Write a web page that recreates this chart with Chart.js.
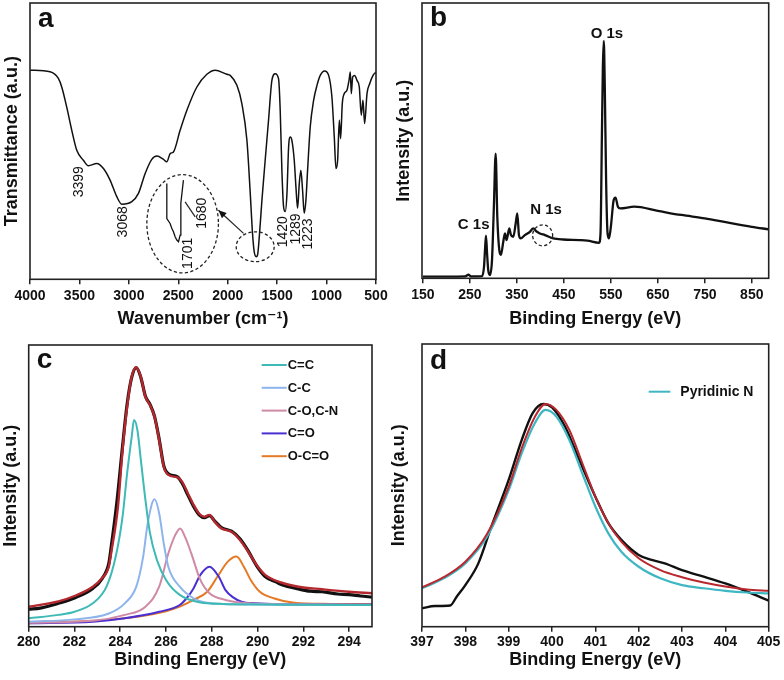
<!DOCTYPE html>
<html>
<head>
<meta charset="utf-8">
<script src="https://cdn.jsdelivr.net/npm/chart.js@4.4.1/dist/chart.umd.min.js"></script>
<style>
  html, body { margin: 0; padding: 0; background: #fff; }
  #wrap { position: relative; width: 784px; height: 680px; overflow: hidden; background: #fff; }
  canvas { position: absolute; }
</style>
</head>
<body>
<div id="wrap">
  <canvas id="ca" width="392" height="330" style="left:0;top:0"></canvas>
  <canvas id="cb" width="392" height="330" style="left:392px;top:0"></canvas>
  <canvas id="cc" width="392" height="350" style="left:0;top:330px"></canvas>
  <canvas id="cd" width="396" height="350" style="left:388px;top:330px"></canvas>
</div>
<script>
// ---------------- DATA ----------------
// (a) FTIR
const aWave = [4000,3797,3713,3679,3629,3578,3527,3460,3409,3325,3257,3190,3122,3072,2970,2903,2835,2768,2717,2650,2616,2582,2549,2481,2413,2312,2211,2127,2009,
  1975,1907,1857,1806,1772,1749,1732,1712,1698,1678,1654,1621,1587,1553,1519,1486,1469,1452,1435,1418,1401,1384,1367,1351,1327,1310,1293,1276,1260,1243,1226,1209,1192,1165,1131,1097,1064,1020,979,946,922,905,888,871,858,841,821,794,773,760,750,736,716,692,669,649,632,615,591,564,530,500];
const aTrans = [75.7,75.1,72.7,69.6,62.4,54.0,46.7,43.1,41.1,41.9,40.1,35.9,29.9,27.2,28.1,31.1,38.3,43.4,44.6,43.4,42.5,45.5,46.1,54.0,61.2,69.6,74.2,75.7,74.2,
  73.8,70.2,63.6,50.4,31.1,16.6,10.0,8.2,8.8,16.6,28.6,43.1,57.6,72.0,74.4,72.6,61.2,39.5,26.3,24.5,30.9,47.9,51.5,50.3,43.1,33.5,25.7,34.7,39.5,32.3,23.9,28.6,39.5,55.2,64.8,70.2,73.8,75.4,73.8,66.0,51.5,40.1,43.1,57.6,50.9,63.6,67.2,68.4,72.0,75.0,67.2,73.2,73.8,72.0,69.6,59.4,64.8,56.4,67.2,70.8,73.8,75.0];
const aInsetWave = [2616,2616,2583,2565,2549,2532,2515,2498,2481,2474,2448];
const aInsetTrans = [34.7,22.0,20.2,18.4,17.2,15.4,14.2,13.6,16.0,27.6,35.9];
const aTicks = [4000,3500,3000,2500,2000,1500,1000,500];
const aPeakLabels = ['3399','3068','1420','1289','1223','1680','1701'];

// (b) XPS survey
const bEnergy = [150,200,240,247,252,276,280,282,284.2,286.5,289,292.7,297,301,304.8,308.3,312.5,316,321,324.6,328,333.8,337.4,342.3,347.4,350.8,354.4,358,367,377.8,384.8,392,399,409.7,427.4,448.6,484,500,525,528,531,533,535,537,540,543,546,550,556,560,565,570,600,650,700,750,800,850,886];
const bIntensity = [0.6,0.6,0.7,1.3,0.7,0.8,4.2,10.0,15.5,9.0,3.0,1.2,6.6,26.0,45.3,22.3,10.3,8.5,13.3,16.3,13.9,18.1,15.7,15.1,19.9,23.6,15.7,14.5,15.7,16.9,18.1,17.0,16.3,15.7,14.5,14.1,13.9,13.7,12.9,16.3,52.6,76.8,86.2,70.7,34.5,16.3,14.5,18.7,28.4,29.3,26.0,25.4,26.0,24.5,23.0,21.8,20.2,18.7,17.8];
const bTicks = [150,250,350,450,550,650,750,850];
const bPeakLabels = ['C 1s','N 1s','O 1s'];

// (c) C 1s
const cLabels = ['C=C','C-C','C-O,C-N','C=O','O-C=O'];
const cCCx = [280,281.3,282,282.8,283.4,283.8,284.1,284.3,284.5,284.6,284.75,284.9,285.1,285.3,285.6,286,286.6,287.5,288.5,290,292,295];
const cCCy = [3.0,4.2,5.3,8.3,14.2,24.8,39.0,54.4,67.4,73.4,69.8,59.2,45.0,33.2,23.7,16.6,11.3,8.6,8.1,7.9,7.8,7.7];
const cCSx = [280,282,283.5,284.2,284.7,285.0,285.2,285.5,285.7,285.9,286.1,286.6,287.2,287.8,288.5,290,292,295];
const cCSy = [1.8,2.6,4.7,8.3,14.2,24.8,36.7,45.2,40.3,29.6,21.3,14.2,10.1,8.5,8.1,7.9,7.8,7.7];
const cCOx = [280,282.8,284.2,285.1,285.7,286.1,286.4,286.62,286.85,287.1,287.5,287.9,288.6,289.6,291,295];
const cCOy = [1.4,2.1,4.2,7.1,14.2,26.0,32.5,34.9,31.5,26.1,16.6,11.9,9.5,8.3,8.0,7.8];
const cCdOx = [280,282.8,284.2,285.7,286.6,286.9,287.2,287.5,287.9,288.3,288.6,288.9,289.3,289.9,291,295];
const cCdOy = [1.2,1.8,3.0,5.3,7.7,10.1,13.6,18.4,21.3,17.8,13.0,10.6,8.9,8.3,8.0,7.9];
const cOCOx = [280,284,286,286.6,287.2,287.8,288.25,288.7,289.08,289.4,289.7,290.1,290.7,291.6,293.2,295];
const cOCOy = [1.2,2.8,5.5,7.1,9.5,12.4,17.8,23.1,24.9,21.3,16.6,12.4,10.1,8.5,8.1,8.0];
const cFitX = [280,281.3,282,282.8,283.2,283.5,283.6,283.9,284.1,284.3,284.5,284.7,284.9,285.1,285.3,285.5,285.7,285.9,286.1,286.5,286.7,286.95,287.17,287.46,287.68,287.9,288.12,288.42,288.86,289.23,289.59,289.96,290.33,291.06,291.79,292.82,293.99,295];
const cFitY = [7.1,9.0,10.9,14.2,17.2,21.3,26.0,42.6,62.7,78.0,88.7,92.1,88.7,81.6,78.7,74.5,66.3,56.8,53.9,53.0,51.5,47.4,43.8,40.0,39.0,39.7,37.3,34.9,33.7,30.8,26.6,21.9,18.4,15.6,14.2,13.3,12.4,11.9];
const cRawX = [280,280.5,281.3,282,282.8,283.2,283.5,283.6,283.85,284.1,284.3,284.5,284.7,284.9,285.1,285.3,285.5,285.7,285.9,286.1,286.5,286.7,286.95,287.17,287.46,287.68,287.9,288.12,288.42,288.86,289.23,289.59,289.96,290.33,290.8,291.06,291.79,292.3,292.82,293.5,293.99,294.5,295];
const cRawY = [6.2,6.6,8.3,10.2,13.6,17.0,22.5,28.0,44.0,64.0,79.0,88.5,92.0,88.5,81.8,78.9,74.6,66.6,57.2,54.3,53.2,51.0,46.8,43.2,39.6,38.7,39.4,37.6,35.2,33.9,31.2,26.9,21.6,17.8,15.9,14.9,13.4,12.6,12.4,11.6,11.4,10.9,10.5];
const cTicks = [280,282,284,286,288,290,292,294];

// (d) N 1s
const dLabel = 'Pyridinic N';
const dFitX = [397,397.5,398,398.5,399,399.3,399.6,399.85,400.1,400.4,400.7,401,401.3,401.6,402,402.5,403,403.5,404,404.5,405];
const dCompY = [13.6,17.1,22.4,31.8,48.3,61.3,71.9,76.7,74.3,66.0,54.2,42.5,33.0,26.5,21.2,17.1,14.7,13.6,12.7,12.1,11.8];
const dFitY = [13.9,17.5,23.0,32.8,49.5,63.1,74.1,78.8,76.7,69.6,57.8,46.0,36.6,30.1,24.2,20.0,17.5,15.6,14.2,13.2,12.7];
const dRawX = [397,397.3,397.65,397.8,398,398.3,398.6,399,399.3,399.55,399.8,400,400.3,400.6,401,401.3,401.6,402,402.3,402.6,403,403.5,404,404.5,405];
const dRawY = [6.5,7.3,7.5,10.6,14.7,22.4,35.4,51.9,66.0,75.5,78.8,77.6,70.8,60.1,46.0,36.6,30.7,25.4,23.6,22.4,20.0,17.7,15.3,12.4,9.2];
const dTicks = [397,398,399,400,401,402,403,404,405];

// ---------------- HELPERS ----------------
const FONT = "'Liberation Sans', Arial, 'DejaVu Sans', sans-serif";
const INK = '#111';
const pts = (xs, ys) => xs.map((v, i) => ({ x: v, y: ys[i] }));

const notesPlugin = {
  id: 'notes',
  afterDatasetsDraw(chart, args, opts) {
    const { ctx, chartArea: ca, scales: { x, y } } = chart;
    const px = v => x.getPixelForValue(v), py = v => y.getPixelForValue(v);
    ctx.save();
    ctx.strokeStyle = '#222';
    ctx.fillStyle = INK;
    (opts.ellipses || []).forEach(e => {
      const cx = px(e.x), cy = py(e.y);
      const rx = Math.abs(px(e.x + e.rx) - cx), ry = Math.abs(py(e.y + e.ry) - cy);
      ctx.beginPath();
      ctx.setLineDash([3.2, 2.4]);
      ctx.lineWidth = 1.3;
      ctx.ellipse(cx, cy, rx, ry, 0, 0, Math.PI * 2);
      ctx.stroke();
    });
    ctx.setLineDash([]);
    (opts.lines || []).forEach(l => {
      const x1 = px(l.x1), y1 = py(l.y1), x2 = px(l.x2), y2 = py(l.y2);
      ctx.beginPath(); ctx.lineWidth = 1.2; ctx.moveTo(x1, y1); ctx.lineTo(x2, y2); ctx.stroke();
      if (l.arrow) {
        const ang = Math.atan2(y2 - y1, x2 - x1), L = 8, W = 3.5;
        ctx.beginPath();
        ctx.moveTo(x2, y2);
        ctx.lineTo(x2 - L * Math.cos(ang) + W * Math.sin(ang), y2 - L * Math.sin(ang) - W * Math.cos(ang));
        ctx.lineTo(x2 - L * Math.cos(ang) - W * Math.sin(ang), y2 - L * Math.sin(ang) + W * Math.cos(ang));
        ctx.closePath(); ctx.fill();
      }
    });
    (opts.texts || []).forEach(t => {
      ctx.save();
      ctx.translate(px(t.x), py(t.y));
      if (t.rot) ctx.rotate(-Math.PI / 2);
      ctx.font = t.font;
      ctx.textAlign = 'center';
      ctx.textBaseline = 'middle';
      ctx.fillText(t.text, 0, 0);
      ctx.restore();
    });
    if (opts.legend) {
      const lg = opts.legend;
      ctx.font = lg.font;
      ctx.textAlign = 'left';
      ctx.textBaseline = 'middle';
      chart.data.datasets.filter(d => d.inLegend).forEach((d, i) => {
        const yy = ca.top + lg.dy + i * lg.step;
        ctx.beginPath();
        ctx.strokeStyle = d.borderColor; ctx.lineWidth = 2;
        ctx.moveTo(ca.left + lg.x1, yy); ctx.lineTo(ca.left + lg.x2, yy); ctx.stroke();
        ctx.fillStyle = INK;
        ctx.fillText(d.label, ca.left + lg.tx, yy + 0.5);
      });
    }
    if (opts.letter) {
      ctx.font = 'bold 28px ' + FONT;
      ctx.fillStyle = INK;
      ctx.textAlign = 'left';
      ctx.textBaseline = 'alphabetic';
      ctx.fillText(opts.letter, ca.left + 8, ca.top + opts.letterDy);
    }
    ctx.strokeStyle = '#222';
    ctx.lineWidth = 1.6;
    ctx.strokeRect(ca.left, ca.top, ca.width, ca.height);
    ctx.restore();
  }
};

function makeChart(id, cfg) {
  const xScale = {
    type: 'linear', min: cfg.xmin, max: cfg.xmax, reverse: !!cfg.reverse,
    afterBuildTicks: s => { s.ticks = cfg.ticks.map(v => ({ value: v })); },
    ticks: { callback: v => String(v), font: { family: FONT, size: 14, weight: 'bold' }, color: INK, padding: cfg.tickPad, maxRotation: 0, autoSkip: false },
    grid: { display: true, drawOnChartArea: false, drawTicks: true, tickLength: 5, color: '#222', lineWidth: 1.5 },
    border: { display: false },
    title: { display: true, text: cfg.xTitle, color: INK, font: { family: FONT, size: 18, weight: 'bold', lineHeight: 1 }, padding: { top: 0, bottom: cfg.xTitlePad } },
    afterFit: s => { s.height = cfg.xH; }
  };
  const yScale = {
    min: 0, max: 100,
    ticks: { display: false }, grid: { display: false }, border: { display: false },
    title: { display: true, text: cfg.yTitle, color: INK, font: { family: FONT, size: 18, weight: 'bold', lineHeight: 1 }, padding: { top: cfg.yTitlePad, bottom: 0 } },
    afterFit: s => { s.width = cfg.yW; }
  };
  return new Chart(document.getElementById(id), {
    type: 'line',
    data: { datasets: cfg.datasets },
    options: {
      responsive: false, animation: false, devicePixelRatio: 1,
      layout: { padding: cfg.pad, autoPadding: false },
      elements: { point: { radius: 0, hoverRadius: 0 }, line: { cubicInterpolationMode: 'monotone' } },
      scales: { x: xScale, y: yScale },
      plugins: { legend: { display: false }, tooltip: { enabled: false }, notes: cfg.notes }
    },
    plugins: [notesPlugin]
  });
}

// ---------------- PANEL a ----------------
const smallFont = '14px ' + FONT;
makeChart('ca', {
  xmin: 500, xmax: 4000, reverse: true, ticks: aTicks, tickPad: 3.5,
  xTitle: 'Wavenumber (cm\u207B\u00B9)', xTitlePad: 2, xH: 50.7,
  yTitle: 'Transmittance (a.u.)', yTitlePad: 3, yW: 30,
  pad: { left: 0, top: 3, right: 16, bottom: 0 },
  datasets: [
    { label: 'FTIR', data: pts(aWave, aTrans), borderColor: INK, borderWidth: 1.5, fill: false },
    { label: 'inset', data: pts(aInsetWave, aInsetTrans), borderColor: INK, borderWidth: 1.3, fill: false, cubicInterpolationMode: 'default', tension: 0 }
  ],
  notes: {
    letter: 'a', letterDy: 24,
    ellipses: [ { x: 2456, y: 20.1, rx: 362, ry: 17.8 }, { x: 1722, y: 11.8, rx: 192, ry: 5.4 } ],
    lines: [ { x1: 2431, y1: 28.0, x2: 2329, y2: 22.6 }, { x1: 1840, y1: 16.6, x2: 2094, y2: 25.0, arrow: true } ],
    texts: [
      { text: aPeakLabels[0], x: 3504, y: 35.3, rot: true, font: smallFont },
      { text: aPeakLabels[1], x: 3055, y: 20.8, rot: true, font: smallFont },
      { text: aPeakLabels[2], x: 1435, y: 17.2, rot: true, font: smallFont },
      { text: aPeakLabels[3], x: 1307, y: 18.2, rot: true, font: smallFont },
      { text: aPeakLabels[4], x: 1182, y: 16.4, rot: true, font: smallFont },
      { text: aPeakLabels[5], x: 2262, y: 23.9, rot: true, font: smallFont },
      { text: aPeakLabels[6], x: 2397, y: 9.4, rot: true, font: smallFont }
    ]
  }
});

// ---------------- PANEL b ----------------
const lblFont = 'bold 15px ' + FONT;
makeChart('cb', {
  xmin: 148, xmax: 886, ticks: bTicks, tickPad: 3.5,
  xTitle: 'Binding Energy (eV)', xTitlePad: 2, xH: 51.7,
  yTitle: 'Intensity (a.u.)', yTitlePad: 3.5, yW: 30,
  pad: { left: 0, top: 3, right: 15.3, bottom: 0 },
  datasets: [
    { label: 'Survey', data: pts(bEnergy, bIntensity), borderColor: INK, borderWidth: 2.3, fill: false }
  ],
  notes: {
    letter: 'b', letterDy: 23,
    ellipses: [ { x: 404.8, y: 15.6, rx: 21.3, ry: 3.8 } ],
    texts: [
      { text: bPeakLabels[0], x: 258, y: 19.3, font: lblFont },
      { text: bPeakLabels[1], x: 412, y: 24.8, font: lblFont },
      { text: bPeakLabels[2], x: 541.6, y: 88.9, font: lblFont }
    ]
  }
});

// ---------------- PANEL c ----------------
makeChart('cc', {
  xmin: 280, xmax: 295, ticks: cTicks, tickPad: 2.5,
  xTitle: 'Binding Energy (eV)', xTitlePad: 10.5, xH: 53.3,
  yTitle: 'Intensity (a.u.)', yTitlePad: 2, yW: 28.7,
  pad: { left: 0, top: 15, right: 20, bottom: 0 },
  datasets: [
    { label: cLabels[0], inLegend: true, data: pts(cCCx, cCCy), borderColor: '#3DBAB6', borderWidth: 2, fill: false },
    { label: cLabels[1], inLegend: true, data: pts(cCSx, cCSy), borderColor: '#8DB5EC', borderWidth: 2, fill: false },
    { label: cLabels[2], inLegend: true, data: pts(cCOx, cCOy), borderColor: '#CF8AA6', borderWidth: 2, fill: false },
    { label: cLabels[3], inLegend: true, data: pts(cCdOx, cCdOy), borderColor: '#4A30D2', borderWidth: 2, fill: false },
    { label: cLabels[4], inLegend: true, data: pts(cOCOx, cOCOy), borderColor: '#E57A26', borderWidth: 2, fill: false },
    { label: 'Fit', data: pts(cFitX, cFitY), borderColor: '#B3272D', borderWidth: 2.4, fill: false },
    { label: 'Raw', data: pts(cRawX, cRawY), borderColor: INK, borderWidth: 3.2, fill: false }
  ],
  notes: {
    letter: 'c', letterDy: 23,
    legend: { font: 'bold 13px ' + FONT, dy: 20, step: 22.8, x1: 233, x2: 258, tx: 259 }
  }
});

// ---------------- PANEL d ----------------
makeChart('cd', {
  xmin: 397, xmax: 405, ticks: dTicks, tickPad: 2.5,
  xTitle: 'Binding Energy (eV)', xTitlePad: 10.5, xH: 53.3,
  yTitle: 'Intensity (a.u.)', yTitlePad: 2, yW: 34,
  pad: { left: 0, top: 14, right: 15.3, bottom: 0 },
  datasets: [
    { label: 'Fit', data: pts(dFitX, dFitY), borderColor: '#B8282E', borderWidth: 2, fill: false },
    { label: dLabel, inLegend: true, data: pts(dFitX, dCompY), borderColor: '#3EB7C3', borderWidth: 2.2, fill: false },
    { label: 'Raw', data: pts(dRawX, dRawY), borderColor: INK, borderWidth: 2.4, fill: false }
  ],
  notes: {
    letter: 'd', letterDy: 25,
    legend: { font: 'bold 14px ' + FONT, dy: 47.7, step: 22, x1: 226.7, x2: 248.3, tx: 258.3 }
  }
});
</script>
</body>
</html>
